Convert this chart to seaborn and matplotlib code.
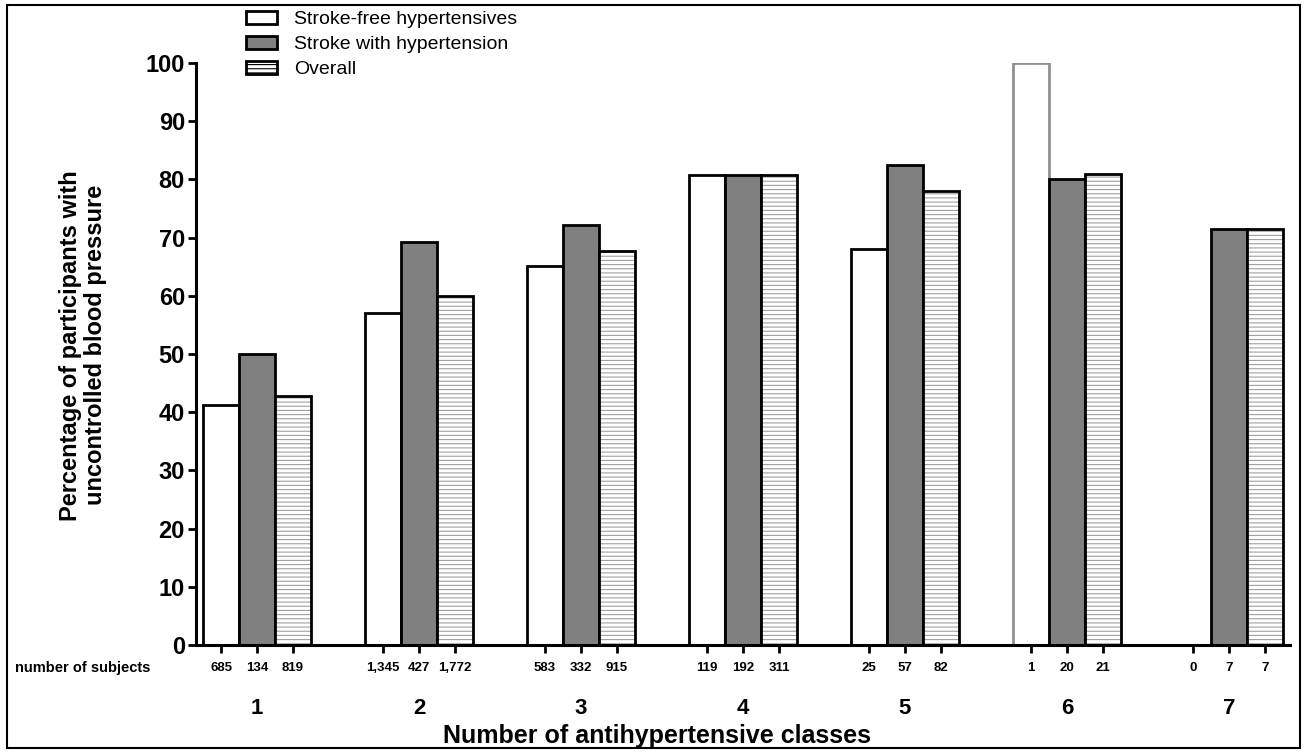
import pandas as pd
import matplotlib.pyplot as plt
import seaborn as sns
from matplotlib.patches import Patch, Rectangle

# data
groups = ['1', '2', '3', '4', '5', '6', '7']
series = ['Stroke-free hypertensives', 'Stroke with hypertension', 'Overall']
stroke_free = [41.3, 57.0, 65.2, 80.7, 68.0, 100.0, 0.0]
stroke = [50.0, 69.3, 72.1, 80.7, 82.5, 80.0, 71.4]
overall = [42.7, 59.9, 67.7, 80.7, 78.0, 81.0, 71.4]
n_stroke_free = ['685', '1,345', '583', '119', '25', '1', '0']
n_stroke = ['134', '427', '332', '192', '57', '20', '7']
n_overall = ['819', '1,772', '915', '311', '82', '21', '7']

df = pd.DataFrame({
    'classes': groups * 3,
    'group': [series[0]] * 7 + [series[1]] * 7 + [series[2]] * 7,
    'pct': stroke_free + stroke + overall,
})

sns.set_style('white')
plt.rcParams['font.family'] = ['Liberation Sans', 'DejaVu Sans']
plt.rcParams['hatch.linewidth'] = 0.8
for k in ['text.color', 'axes.labelcolor', 'xtick.color', 'ytick.color', 'axes.edgecolor']:
    plt.rcParams[k] = 'black'

fig = plt.figure(figsize=(13.08, 7.53), dpi=100)
ax = fig.add_axes([196 / 1308, 1 - 645 / 753, 1094 / 1308, 582 / 753])

colors = {series[0]: 'white', series[1]: '#808080', series[2]: 'white'}
sns.barplot(data=df, x='classes', y='pct', hue='group', hue_order=series,
            palette=colors, width=0.667, edgecolor='black', linewidth=2,
            saturation=1, legend=False, ax=ax)

# hatch the "overall" bars with thin grey lines
for p in ax.containers[2]:
    p.set_hatch('----')
    if hasattr(p, 'set_hatchcolor'):
        p.set_hatchcolor('#a0a0a0')
    else:
        p.set_edgecolor('#a0a0a0')
        p.set_linewidth(0)
        ax.add_patch(Rectangle((p.get_x(), p.get_y()), p.get_width(), p.get_height(),
                               fill=False, edgecolor='black', linewidth=2))

# single-subject bar drawn in grey
ax.containers[0][5].set_edgecolor('#909090')

ax.set_ylim(0, 100)
ax.set_xlim(-0.377, 6.377)
ax.set_yticks(range(0, 101, 10))
for lab in ax.get_yticklabels():
    lab.set_fontweight('bold')
ax.tick_params(axis='y', left=True, length=6, width=2, labelsize=17, pad=2)

# subject counts as minor ticks under each bar
centers = []
counts = []
for cont, ns in zip(ax.containers, [n_stroke_free, n_stroke, n_overall]):
    for p, n in zip(cont, ns):
        centers.append(p.get_x() + p.get_width() / 2)
        counts.append(n)
ax.xaxis.remove_overlapping_locs = False
ax.set_xticks(centers, minor=True)
ax.set_xticklabels(counts, minor=True, fontsize=9.5, fontweight='bold')
ax.tick_params(axis='x', which='minor', bottom=True, length=6, width=2, pad=6)
ax.tick_params(axis='x', which='major', bottom=True, length=0, labelsize=16, pad=38)
for lab in ax.get_xticklabels():
    lab.set_fontweight('bold')

sns.despine(ax=ax)
ax.spines['left'].set_linewidth(2.2)
ax.spines['bottom'].set_linewidth(2.2)

ax.set_xlabel('Number of antihypertensive classes', fontsize=18, fontweight='bold')
ax.xaxis.set_label_coords(0.421, -0.156)
ax.xaxis.label.set_verticalalignment('center')
ax.set_ylabel('Percentage of participants with\nuncontrolled blood pressure',
              fontsize=17, fontweight='bold', linespacing=1.1)
ax.yaxis.set_label_coords(-0.103, 0.515)
ax.yaxis.label.set_verticalalignment('center')

fig.text(15 / 1308, 1 - 668 / 753, 'number of subjects', fontsize=10.5,
         fontweight='bold', va='center', ha='left')

handles = [Patch(facecolor='white', edgecolor='black', linewidth=2),
           Patch(facecolor='#808080', edgecolor='black', linewidth=2),
           Patch(facecolor='white', edgecolor='black', linewidth=2, hatch='----')]
fig.legend(handles, series, loc='upper left', bbox_to_anchor=(238 / 1308, 1 - 3 / 753),
           frameon=False, fontsize=14, handlelength=1.6, handleheight=0.65,
           labelspacing=0.4, handletextpad=0.9, borderaxespad=0)

fig.patches.append(Rectangle((7 / 1308, 5 / 753), 1293 / 1308, 743 / 753,
                             transform=fig.transFigure, fill=False,
                             edgecolor='black', linewidth=1.5))

fig.savefig('out.png', dpi=100)
